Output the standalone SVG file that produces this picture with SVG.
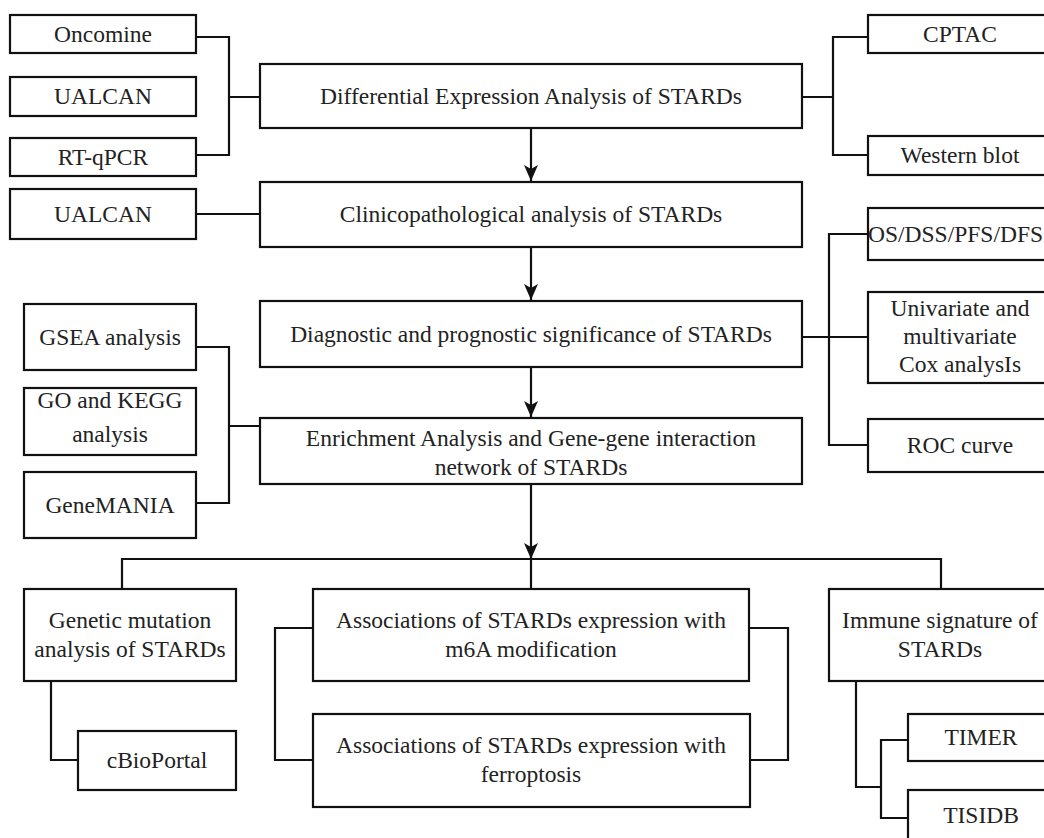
<svg xmlns="http://www.w3.org/2000/svg" width="1044" height="838" viewBox="0 0 1044 838">
<style>
.b{fill:#fff;stroke:#111;stroke-width:2.2}
.t{font-family:'Liberation Serif',serif;font-size:23.5px;fill:#222;text-anchor:middle}
.c{fill:none;stroke:#111;stroke-width:2.2}
</style>
<defs>
<marker id="ah" viewBox="0 0 16 14" refX="16" refY="7" markerWidth="16" markerHeight="14" markerUnits="userSpaceOnUse" orient="auto">
<path d="M0,0 L4,7 L0,14 L16,7 Z" fill="#111"/>
</marker>
</defs>
<rect width="1044" height="838" fill="#fff"/>
<g id="connectors">
<path class="c" d="M196,37 H229 V155 H196 M229,97 H260"/>
<path class="c" d="M196,214 H260"/>
<path class="c" d="M802,97 H833 M868,37 H833 V155 H868"/>
<path class="c" d="M802,337 H868 M868,234 H829 V445 H868"/>
<path class="c" d="M196,347 H229 V503 H196 M229,426 H260"/>
<line class="c" x1="531" y1="128" x2="531" y2="181" marker-end="url(#ah)"/>
<line class="c" x1="531" y1="247" x2="531" y2="300" marker-end="url(#ah)"/>
<line class="c" x1="531" y1="367" x2="531" y2="417" marker-end="url(#ah)"/>
<line class="c" x1="531" y1="484" x2="531" y2="559" marker-end="url(#ah)"/>
<path class="c" d="M122,589 V559 H941 V589 M531,559 V589"/>
<path class="c" d="M51,681 V760 H78"/>
<path class="c" d="M313,628 H275 V760 H313 M749,628 H788 V760 H749"/>
<path class="c" d="M856,681 V787 H881 M908,740 H881 V818 H908"/>
</g>
<g id="oncomine"><rect class="b" x="10" y="15" width="186" height="38"/><text class="t" x="103" y="42">Oncomine</text></g>
<g id="ualcan1"><rect class="b" x="10" y="77" width="186" height="39"/><text class="t" x="103" y="104">UALCAN</text></g>
<g id="rtqpcr"><rect class="b" x="10" y="138" width="186" height="38"/><text class="t" x="103" y="165">RT-qPCR</text></g>
<g id="ualcan2"><rect class="b" x="10" y="189" width="186" height="50"/><text class="t" x="103" y="222">UALCAN</text></g>
<g id="differential"><rect class="b" x="260" y="64" width="542" height="64"/><text class="t" x="531" y="104">Differential Expression Analysis of STARDs</text></g>
<g id="clinico"><rect class="b" x="260" y="182" width="542" height="65"/><text class="t" x="531" y="222">Clinicopathological analysis of STARDs</text></g>
<g id="diagnostic"><rect class="b" x="260" y="301" width="542" height="66"/><text class="t" x="531" y="342">Diagnostic and prognostic significance of STARDs</text></g>
<g id="enrichment"><rect class="b" x="260" y="418" width="542" height="66"/><text class="t" x="531" y="446">Enrichment Analysis and Gene-gene interaction</text><text class="t" x="531" y="475">network of STARDs</text></g>
<g id="cptac"><rect class="b" x="868" y="15" width="186" height="38"/><text class="t" x="960" y="42">CPTAC</text></g>
<g id="western"><rect class="b" x="868" y="136" width="186" height="39"/><text class="t" x="960" y="163">Western blot</text></g>
<g id="os"><rect class="b" x="868" y="208" width="186" height="52"/><text class="t" x="868" y="242" style="text-anchor:start">OS/DSS/PFS/DFS</text></g>
<g id="cox"><rect class="b" x="868" y="292" width="186" height="91"/><text class="t" x="960" y="316">Univariate and</text><text class="t" x="960" y="344">multivariate</text><text class="t" x="960" y="372">Cox analysIs</text></g>
<g id="roc"><rect class="b" x="868" y="419" width="186" height="53"/><text class="t" x="960" y="453">ROC curve</text></g>
<g id="gsea"><rect class="b" x="24" y="304" width="172" height="66"/><text class="t" x="110" y="345">GSEA analysis</text></g>
<g id="gokegg"><rect class="b" x="24" y="388" width="172" height="67"/><text class="t" x="110" y="408">GO and KEGG</text><text class="t" x="110" y="442">analysis</text></g>
<g id="genemania"><rect class="b" x="24" y="472" width="172" height="66"/><text class="t" x="110" y="513">GeneMANIA</text></g>
<g id="genetic"><rect class="b" x="24" y="589" width="212" height="92"/><text class="t" x="130" y="628">Genetic mutation</text><text class="t" x="130" y="657">analysis of STARDs</text></g>
<g id="cbioportal"><rect class="b" x="78" y="731" width="158" height="59"/><text class="t" x="157" y="768">cBioPortal</text></g>
<g id="m6a"><rect class="b" x="313" y="589" width="436" height="92"/><text class="t" x="531" y="628">Associations of STARDs expression with</text><text class="t" x="531" y="657">m6A modification</text></g>
<g id="ferroptosis"><rect class="b" x="313" y="714" width="437" height="93"/><text class="t" x="531" y="753">Associations of STARDs expression with</text><text class="t" x="531" y="782">ferroptosis</text></g>
<g id="immune"><rect class="b" x="829" y="589" width="225" height="92"/><text class="t" x="940" y="628">Immune signature of</text><text class="t" x="940" y="657">STARDs</text></g>
<g id="timer"><rect class="b" x="908" y="714" width="146" height="47"/><text class="t" x="981" y="745">TIMER</text></g>
<g id="tisidb"><rect class="b" x="908" y="790" width="146" height="60"/><text class="t" x="981" y="823">TISIDB</text></g>
</svg>
